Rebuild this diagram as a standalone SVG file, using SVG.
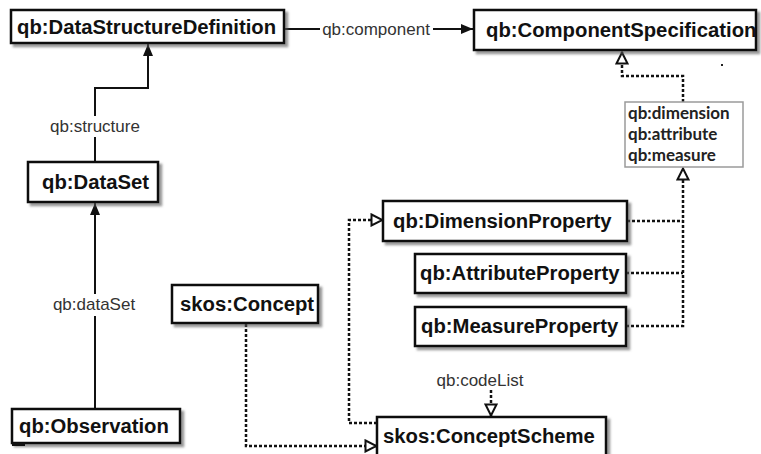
<svg xmlns="http://www.w3.org/2000/svg" width="761" height="454" viewBox="0 0 761 454">
  <style>
    .box { fill: #ffffff; stroke: #111111; stroke-width: 2.5; filter: url(#shadow); }
    .name { font-family: "Liberation Sans", Arial, sans-serif; font-weight: bold; font-size: 20.3px; fill: #111111; }
    .lbl { font-family: "Liberation Sans", Arial, sans-serif; font-size: 17px; fill: #333333; text-anchor: middle; }
    .solid { fill: none; stroke: #111111; stroke-width: 2; }
    .dot { fill: none; stroke: #111111; stroke-width: 2.5; stroke-dasharray: 3 2; }
    .legend { fill: #ffffff; stroke: #9a9a9a; stroke-width: 1.5; }
    .legtxt { font-family: Lato, "Open Sans", sans-serif; font-weight: bold; font-size: 17px; fill: #222222; }
  </style>
  <defs>
    <filter id="shadow" x="-10%" y="-20%" width="120%" height="160%">
      <feDropShadow dx="3" dy="3" stdDeviation="1" flood-color="#555555" flood-opacity="0.6"/>
    </filter>
    <marker id="filled" viewBox="0 0 12 10" refX="12" refY="5" markerWidth="12" markerHeight="10" markerUnits="userSpaceOnUse" orient="auto">
      <path d="M0,0 L12,5 L0,10 Z" fill="#111111"/>
    </marker>
    <marker id="hollow" viewBox="-1 -1 14 14" refX="12" refY="6" markerWidth="14" markerHeight="14" markerUnits="userSpaceOnUse" orient="auto">
      <path d="M0.5,0.5 L11.5,6 L0.5,11.5 Z" fill="#ffffff" stroke="#111111" stroke-width="2"/>
    </marker>
  </defs>

  <!-- connectors -->
  <g id="connectors">
    <!-- qb:component -->
    <path class="solid" d="M284,29 H320"/>
    <path class="solid" d="M433,29 H473" marker-end="url(#filled)"/>
    <text class="lbl" x="376" y="35">qb:component</text>

    <!-- qb:structure -->
    <path class="solid" d="M95,162 V137"/>
    <path class="solid" d="M95,116 V88 H148 V44" marker-end="url(#filled)"/>
    <text class="lbl" x="95" y="132">qb:structure</text>

    <!-- qb:dataSet -->
    <path class="solid" d="M95,409 V316"/>
    <path class="solid" d="M95,294 V203" marker-end="url(#filled)"/>
    <text class="lbl" x="94" y="310">qb:dataSet</text>

    <!-- component properties to specification -->
    <path class="dot" d="M683,102 V76 H622 V52" marker-end="url(#hollow)"/>
    <path class="dot" d="M627,221 H683"/>
    <path class="dot" d="M626,273 H683"/>
    <path class="dot" d="M626,326 H683 V168" marker-end="url(#hollow)"/>

    <!-- concepts to scheme -->
    <path class="dot" d="M246,324 V446 H377" marker-end="url(#hollow)"/>
    <path class="dot" d="M377,423 H349 V220 H383" marker-end="url(#hollow)"/>

    <!-- qb:codeList -->
    <path class="dot" d="M491,390 V416" marker-end="url(#hollow)"/>
    <text class="lbl" x="480" y="386">qb:codeList</text>
  </g>

  <!-- property legend -->
  <g id="legend">
    <rect class="legend" x="625" y="102" width="118" height="65"/>
    <text class="legtxt" x="628" y="119">qb:dimension</text>
    <text class="legtxt" x="628" y="140">qb:attribute</text>
    <text class="legtxt" x="628" y="161">qb:measure</text>
  </g>

  <g id="dsd">
    <rect class="box" x="11" y="10" width="273" height="33"/>
    <text class="name" x="17" y="34">qb:DataStructureDefinition</text>
  </g>
  <g id="componentSpec">
    <rect class="box" x="474" y="10" width="282" height="40"/>
    <text class="name" x="486" y="37">qb:ComponentSpecification</text>
  </g>
  <g id="dataSet">
    <rect class="box" x="28" y="162" width="130" height="40"/>
    <text class="name" x="42" y="189">qb:DataSet</text>
  </g>
  <g id="observation">
    <rect class="box" x="12" y="409" width="168" height="34"/>
    <text class="name" x="19" y="433">qb:Observation</text>
    <rect x="12" y="443" width="13" height="3" fill="#111111"/>
  </g>
  <g id="concept">
    <rect class="box" x="172" y="285" width="146" height="38"/>
    <text class="name" x="180" y="311">skos:Concept</text>
  </g>
  <g id="dimensionProperty">
    <rect class="box" x="383" y="201" width="244" height="40"/>
    <text class="name" x="393" y="228">qb:DimensionProperty</text>
  </g>
  <g id="attributeProperty">
    <rect class="box" x="415" y="254" width="211" height="39"/>
    <text class="name" x="420" y="280">qb:AttributeProperty</text>
  </g>
  <g id="measureProperty">
    <rect class="box" x="415" y="307" width="211" height="39"/>
    <text class="name" x="421" y="333">qb:MeasureProperty</text>
  </g>
  <g id="conceptScheme">
    <rect class="box" x="377" y="417" width="229" height="45"/>
    <text class="name" x="383" y="443">skos:ConceptScheme</text>
  </g>

  <!-- stray speck -->
  <rect x="721" y="64" width="2" height="2" fill="#222222"/>
</svg>
